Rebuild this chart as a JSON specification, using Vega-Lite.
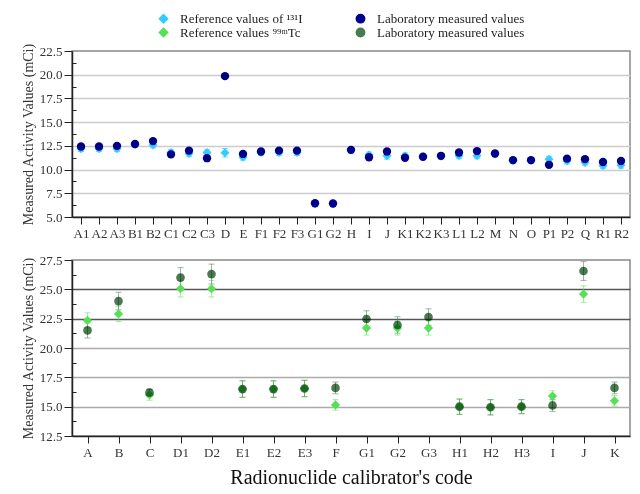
{
  "$schema": "https://vega.github.io/schema/vega-lite/v6.json",
  "background": "white",
  "padding": {"left": 20, "right": 8, "top": 12, "bottom": 4},
  "datasets": {
    "iodine": [
      {"code": "A1", "series": "ref131", "value": 12.2, "err": 0.3},
      {"code": "A2", "series": "ref131", "value": 12.2, "err": 0.3},
      {"code": "A3", "series": "ref131", "value": 12.2, "err": 0.3},
      {"code": "B1", "series": "ref131", "value": 12.65, "err": 0.3},
      {"code": "B2", "series": "ref131", "value": 12.6, "err": 0.3},
      {"code": "C1", "series": "ref131", "value": 11.8, "err": 0.3},
      {"code": "C2", "series": "ref131", "value": 11.7, "err": 0.3},
      {"code": "C3", "series": "ref131", "value": 11.8, "err": 0.3},
      {"code": "D", "series": "ref131", "value": 11.77, "err": 0.45},
      {"code": "E", "series": "ref131", "value": 11.3, "err": 0.3},
      {"code": "F1", "series": "ref131", "value": 11.8, "err": 0.3},
      {"code": "F2", "series": "ref131", "value": 11.8, "err": 0.3},
      {"code": "F3", "series": "ref131", "value": 11.8, "err": 0.3},
      {"code": "G1", "series": "ref131", "value": 6.4, "err": 0.2},
      {"code": "G2", "series": "ref131", "value": 6.4, "err": 0.2},
      {"code": "H", "series": "ref131", "value": 12.05, "err": 0.3},
      {"code": "I", "series": "ref131", "value": 11.55, "err": 0.3},
      {"code": "J", "series": "ref131", "value": 11.45, "err": 0.35},
      {"code": "K1", "series": "ref131", "value": 11.45, "err": 0.3},
      {"code": "K2", "series": "ref131", "value": 11.35, "err": 0.3},
      {"code": "K3", "series": "ref131", "value": 11.4, "err": 0.3},
      {"code": "L1", "series": "ref131", "value": 11.45, "err": 0.3},
      {"code": "L2", "series": "ref131", "value": 11.45, "err": 0.3},
      {"code": "M", "series": "ref131", "value": 11.65, "err": 0.3},
      {"code": "N", "series": "ref131", "value": 10.95, "err": 0.3},
      {"code": "O", "series": "ref131", "value": 10.95, "err": 0.3},
      {"code": "P1", "series": "ref131", "value": 11.1, "err": 0.3},
      {"code": "P2", "series": "ref131", "value": 10.9, "err": 0.3},
      {"code": "Q", "series": "ref131", "value": 10.75, "err": 0.3},
      {"code": "R1", "series": "ref131", "value": 10.4, "err": 0.3},
      {"code": "R2", "series": "ref131", "value": 10.45, "err": 0.3},
      {"code": "A1", "series": "lab131", "value": 12.43, "err": 0.2},
      {"code": "A2", "series": "lab131", "value": 12.43, "err": 0.2},
      {"code": "A3", "series": "lab131", "value": 12.5, "err": 0.2},
      {"code": "B1", "series": "lab131", "value": 12.7, "err": 0.2},
      {"code": "B2", "series": "lab131", "value": 13.0, "err": 0.2},
      {"code": "C1", "series": "lab131", "value": 11.6, "err": 0.2},
      {"code": "C2", "series": "lab131", "value": 12.0, "err": 0.2},
      {"code": "C3", "series": "lab131", "value": 11.2, "err": 0.2},
      {"code": "D", "series": "lab131", "value": 19.85, "err": 0.2},
      {"code": "E", "series": "lab131", "value": 11.65, "err": 0.2},
      {"code": "F1", "series": "lab131", "value": 11.9, "err": 0.2},
      {"code": "F2", "series": "lab131", "value": 12.0, "err": 0.2},
      {"code": "F3", "series": "lab131", "value": 12.0, "err": 0.2},
      {"code": "G1", "series": "lab131", "value": 6.45, "err": 0.15},
      {"code": "G2", "series": "lab131", "value": 6.42, "err": 0.15},
      {"code": "H", "series": "lab131", "value": 12.08, "err": 0.2},
      {"code": "I", "series": "lab131", "value": 11.3, "err": 0.2},
      {"code": "J", "series": "lab131", "value": 11.9, "err": 0.2},
      {"code": "K1", "series": "lab131", "value": 11.25, "err": 0.2},
      {"code": "K2", "series": "lab131", "value": 11.35, "err": 0.2},
      {"code": "K3", "series": "lab131", "value": 11.45, "err": 0.2},
      {"code": "L1", "series": "lab131", "value": 11.8, "err": 0.2},
      {"code": "L2", "series": "lab131", "value": 11.95, "err": 0.2},
      {"code": "M", "series": "lab131", "value": 11.7, "err": 0.2},
      {"code": "N", "series": "lab131", "value": 11.0, "err": 0.2},
      {"code": "O", "series": "lab131", "value": 11.0, "err": 0.2},
      {"code": "P1", "series": "lab131", "value": 10.5, "err": 0.2},
      {"code": "P2", "series": "lab131", "value": 11.15, "err": 0.2},
      {"code": "Q", "series": "lab131", "value": 11.1, "err": 0.2},
      {"code": "R1", "series": "lab131", "value": 10.8, "err": 0.2},
      {"code": "R2", "series": "lab131", "value": 10.9, "err": 0.2}
    ],
    "technetium": [
      {"code": "A", "series": "ref99", "value": 22.35, "err": 0.65},
      {"code": "B", "series": "ref99", "value": 22.9, "err": 0.65},
      {"code": "C", "series": "ref99", "value": 16.0, "err": 0.45},
      {"code": "D1", "series": "ref99", "value": 25.05, "err": 0.7},
      {"code": "D2", "series": "ref99", "value": 25.05, "err": 0.7},
      {"code": "E1", "series": "ref99", "value": 16.5, "err": 0.7},
      {"code": "E2", "series": "ref99", "value": 16.5, "err": 0.7},
      {"code": "E3", "series": "ref99", "value": 16.55, "err": 0.7},
      {"code": "F", "series": "ref99", "value": 15.15, "err": 0.45},
      {"code": "G1", "series": "ref99", "value": 21.7, "err": 0.6},
      {"code": "G2", "series": "ref99", "value": 21.7, "err": 0.6},
      {"code": "G3", "series": "ref99", "value": 21.7, "err": 0.6},
      {"code": "H1", "series": "ref99", "value": 15.0, "err": 0.65},
      {"code": "H2", "series": "ref99", "value": 14.95, "err": 0.65},
      {"code": "H3", "series": "ref99", "value": 15.0, "err": 0.6},
      {"code": "I", "series": "ref99", "value": 15.9, "err": 0.45},
      {"code": "J", "series": "ref99", "value": 24.6, "err": 0.7},
      {"code": "K", "series": "ref99", "value": 15.5, "err": 0.45},
      {"code": "A", "series": "lab99", "value": 21.5, "err": 0.65},
      {"code": "B", "series": "lab99", "value": 24.0, "err": 0.75},
      {"code": "C", "series": "lab99", "value": 16.2, "err": 0.3},
      {"code": "D1", "series": "lab99", "value": 26.0, "err": 0.85},
      {"code": "D2", "series": "lab99", "value": 26.3, "err": 0.85},
      {"code": "E1", "series": "lab99", "value": 16.5, "err": 0.7},
      {"code": "E2", "series": "lab99", "value": 16.5, "err": 0.7},
      {"code": "E3", "series": "lab99", "value": 16.55, "err": 0.7},
      {"code": "F", "series": "lab99", "value": 16.6, "err": 0.5},
      {"code": "G1", "series": "lab99", "value": 22.47, "err": 0.7},
      {"code": "G2", "series": "lab99", "value": 21.96, "err": 0.7},
      {"code": "G3", "series": "lab99", "value": 22.64, "err": 0.7},
      {"code": "H1", "series": "lab99", "value": 15.0, "err": 0.65},
      {"code": "H2", "series": "lab99", "value": 14.95, "err": 0.65},
      {"code": "H3", "series": "lab99", "value": 15.0, "err": 0.6},
      {"code": "I", "series": "lab99", "value": 15.1, "err": 0.5},
      {"code": "J", "series": "lab99", "value": 26.56, "err": 0.8},
      {"code": "K", "series": "lab99", "value": 16.6, "err": 0.5}
    ]
  },
  "vconcat": [
    {
      "width": 558,
      "height": 166,
      "data": {"name": "iodine"},
      "encoding": {
        "x": {
          "field": "code",
          "type": "nominal",
          "scale": {"type": "point", "padding": 0.5, "domain": ["A1","A2","A3","B1","B2","C1","C2","C3","D","E","F1","F2","F3","G1","G2","H","I","J","K1","K2","K3","L1","L2","M","N","O","P1","P2","Q","R1","R2"]},
          "axis": {"title": null, "labelAngle": 0, "tickSize": 7, "domainColor": "#222", "domainWidth": 1.5, "tickColor": "#222", "labelPadding": 3}
        },
        "y": {
          "field": "value", "type": "quantitative",
          "scale": {"domain": [5, 22.5], "nice": false, "zero": false},
          "axis": {
            "values": [5, 6.25, 7.5, 8.75, 10, 11.25, 12.5, 13.75, 15, 16.25, 17.5, 18.75, 20, 21.25, 22.5],
            "format": ".1f",
            "labelExpr": "datum.value % 2.5 == 0 ? datum.label : ''",
            "tickSize": {"condition": {"test": "datum.value % 2.5 == 0", "value": 8}, "value": -4},
            "gridOpacity": {"condition": {"test": "datum.value % 2.5 == 0 && datum.value > 5 && datum.value < 22.5", "value": 1}, "value": 0},
            "gridColor": "#cccccc", "gridWidth": 1.5,
            "domainColor": "#222", "domainWidth": 1.5, "tickColor": "#222",
            "title": "Measured Activity Values (mCi)", "titlePadding": 4
          }
        },
        "color": {
          "field": "series", "type": "nominal",
          "scale": {"domain": ["ref131", "ref99", "lab131", "lab99"], "range": ["#33ccff", "#55e055", "#000090", "#4a7a52"]},
          "legend": {
            "labelExpr": "datum.value == 'ref131' ? 'Reference values of ¹³¹I' : datum.value == 'ref99' ? 'Reference values ⁹⁹ᵐTc' : 'Laboratory measured values'"
          }
        },
        "shape": {
          "field": "series", "type": "nominal",
          "scale": {"domain": ["ref131", "ref99", "lab131", "lab99"], "range": ["diamond", "diamond", "circle", "circle"]},
          "legend": {
            "labelExpr": "datum.value == 'ref131' ? 'Reference values of ¹³¹I' : datum.value == 'ref99' ? 'Reference values ⁹⁹ᵐTc' : 'Laboratory measured values'"
          }
        }
      },
      "layer": [
        {
          "mark": {"type": "errorbar", "ticks": {"size": 6}, "opacity": 0.7},
          "encoding": {
            "yError": {"field": "err"},
            "shape": null
          }
        },
        {
          "transform": [{"filter": "datum.series == 'ref131'"}],
          "mark": {"type": "point", "filled": true, "opacity": 1, "size": 80}
        },
        {
          "transform": [{"filter": "datum.series == 'lab131'"}],
          "mark": {"type": "point", "filled": true, "opacity": 1, "size": 70, "blend": "multiply"}
        }
      ]
    },
    {
      "width": 558,
      "height": 176,
      "data": {"name": "technetium"},
      "encoding": {
        "x": {
          "field": "code",
          "type": "nominal",
          "scale": {"type": "point", "padding": 0.5, "domain": ["A","B","C","D1","D2","E1","E2","E3","F","G1","G2","G3","H1","H2","H3","I","J","K"]},
          "axis": {"title": "Radionuclide calibrator's code", "titleFontSize": 20, "titlePadding": 8, "titleColor": "#111111", "labelAngle": 0, "tickSize": 7, "domainColor": "#222", "domainWidth": 1.5, "tickColor": "#222", "labelPadding": 3}
        },
        "y": {
          "field": "value", "type": "quantitative",
          "scale": {"domain": [12.5, 27.5], "nice": false, "zero": false},
          "axis": {
            "values": [12.5, 13.75, 15, 16.25, 17.5, 18.75, 20, 21.25, 22.5, 23.75, 25, 26.25, 27.5],
            "format": ".1f",
            "labelExpr": "datum.value % 2.5 == 0 ? datum.label : ''",
            "tickSize": {"condition": {"test": "datum.value % 2.5 == 0", "value": 8}, "value": -4},
            "gridOpacity": {"condition": {"test": "datum.value % 2.5 == 0 && datum.value > 12.5 && datum.value < 27.5", "value": 1}, "value": 0},
            "gridColor": {"condition": {"test": "datum.value >= 22.5", "value": "#555555"}, "value": "#aaaaaa"},
            "gridWidth": 1.5,
            "domainColor": "#222", "domainWidth": 1.5, "tickColor": "#222",
            "title": "Measured Activity Values (mCi)", "titlePadding": 4
          }
        },
        "color": {
          "field": "series", "type": "nominal",
          "scale": {"domain": ["ref131", "ref99", "lab131", "lab99"], "range": ["#33ccff", "#55e055", "#000090", "#4a7a52"]},
          "legend": {
            "labelExpr": "datum.value == 'ref131' ? 'Reference values of ¹³¹I' : datum.value == 'ref99' ? 'Reference values ⁹⁹ᵐTc' : 'Laboratory measured values'"
          }
        },
        "shape": {
          "field": "series", "type": "nominal",
          "scale": {"domain": ["ref131", "ref99", "lab131", "lab99"], "range": ["diamond", "diamond", "circle", "circle"]},
          "legend": {
            "labelExpr": "datum.value == 'ref131' ? 'Reference values of ¹³¹I' : datum.value == 'ref99' ? 'Reference values ⁹⁹ᵐTc' : 'Laboratory measured values'"
          }
        }
      },
      "layer": [
        {
          "mark": {"type": "errorbar", "ticks": {"size": 6}, "opacity": 0.55},
          "encoding": {
            "yError": {"field": "err"},
            "shape": null
          }
        },
        {
          "transform": [{"filter": "datum.series == 'ref99'"}],
          "mark": {"type": "point", "filled": true, "opacity": 1, "size": 85}
        },
        {
          "transform": [{"filter": "datum.series == 'lab99'"}],
          "mark": {"type": "point", "filled": true, "opacity": 1, "size": 75, "blend": "multiply"}
        }
      ]
    }
  ],
  "spacing": 12,
  "resolve": {"scale": {"x": "independent", "y": "independent", "color": "shared", "shape": "shared"}},
  "config": {
    "font": "Liberation Serif",
    "view": {"stroke": "#888888", "strokeWidth": 1.5},
    "axis": {"labelFont": "Liberation Serif", "labelFontSize": 13, "labelColor": "#333333", "titleFont": "Liberation Serif", "titleFontSize": 14, "titleFontWeight": "normal", "titleColor": "#333333"},
    "legend": {
      "orient": "none",
      "legendX": 85,
      "legendY": -39,
      "columns": 2,
      "title": null,
      "labelFont": "Liberation Serif",
      "labelFontSize": 13,
      "labelColor": "#222222",
      "symbolSize": 70,
      "symbolOpacity": 1,
      "columnPadding": 50,
      "rowPadding": -5,
      "labelOffset": 10
    }
  }
}
